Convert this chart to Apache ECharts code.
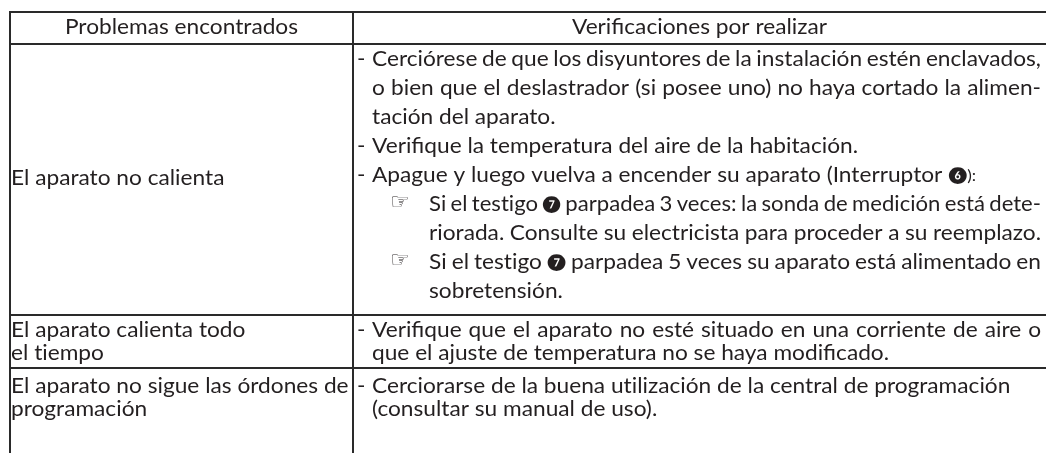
<!DOCTYPE html>
<html>
<head>
<meta charset="utf-8">
<script src="https://cdn.jsdelivr.net/npm/echarts@6/dist/echarts.min.js"></script>
<style>
html,body{margin:0;padding:0;background:#fff;}
#chart{width:1048px;height:453px;}
</style>
</head>
<body>
<div id="chart"></div>
<script>
// ---- data ----
const headers = ['Problemas encontrados', 'Verificaciones por realizar'];

const problems = [
  ['El aparato no calienta'],
  ['El aparato calienta todo', 'el tiempo'],
  ['El aparato no sigue las órdones de', 'programación']
];

// kind: dash = new item, cont = continuation, hand = pointer item, handcont = its continuation
// third field: justified line
const checksRow1 = [
  ['dash', 'Cerciórese de que los disyuntores de la instalación estén enclavados,', true],
  ['cont', 'o bien que el deslastrador (si posee uno) no haya cortado la alimen-', true],
  ['cont', 'tación del aparato.', false],
  ['dash', 'Verifique la temperatura del aire de la habitación.', false],
  ['dash', 'Apague y luego vuelva a encender su aparato (Interruptor ❻):', false],
  ['hand', 'Si el testigo ❼ parpadea 3 veces: la sonda de medición está dete-', true],
  ['handcont', 'riorada. Consulte su electricista para proceder a su reemplazo.', true],
  ['hand', 'Si el testigo ❼ parpadea 5 veces su aparato está alimentado en', true],
  ['handcont', 'sobretensión.', false]
];
const checksRow2 = [
  ['dash', 'Verifique que el aparato no esté situado en una corriente de aire o', true],
  ['cont', 'que el ajuste de temperatura no se haya modificado.', false]
];
const checksRow3 = [
  ['dash', 'Cerciorarse de la buena utilización de la central de programación', false],
  ['cont', '(consultar su manual de uso).', false]
];
const checks = [checksRow1, checksRow2, checksRow3];

// ---- layout ----
const FAMILY = 'Lato, "DejaVu Sans", sans-serif';
const FS = 21;
const SX = 1.08;
const COLOR = '#231f20';
const LINE = '#2a2a2a';
const X_LEFT = 10, X_DIV = 353, X_RIGHT = 1046;
const Y_TOP = 12, Y_HEAD = 44;
const rowBottoms = [315, 368, 470];
const rowFirstBase = [66, 337, 393];
const rowPitch = [29, 22.5, 23];
const leftBase = [[185], [337, 359.5], [393, 416]];

const mctx = document.createElement('canvas').getContext('2d');
function fontStr(sz) { return sz + 'px ' + FAMILY; }
// break "ti" ligature of Lato with an invisible non-joiner
const noLig = s => s.replace(/ti/g, 't\u200Ci');
function measure(t, sz, sx) { mctx.font = fontStr(sz); return mctx.measureText(noLig(t)).width * (sx || SX); }
const isMark = w => /^[❶-❿]/.test(w);

const elems = [];
function hLine(y, x0, x1) {
  elems.push({type: 'line', silent: true, shape: {x1: x0, y1: y, x2: x1, y2: y},
    style: {stroke: LINE, lineWidth: 2}});
}
function vLine(x, y0, y1) {
  elems.push({type: 'line', silent: true, shape: {x1: x, y1: y0, x2: x, y2: y1},
    style: {stroke: LINE, lineWidth: 2}});
}
// text placed at an alphabetic baseline, stretched horizontally
function txtBase(x, base, s, sz, align, sx, family) {
  sx = sx || SX;
  let xx = x;
  if (align === 'center') xx = x - measure(s, sz, sx) / 2;
  const f = family ? sz + 'px ' + family : fontStr(sz);
  elems.push({type: 'text', silent: true, x: xx, y: base - sz * 0.80, scaleX: sx,
    style: {text: noLig(s), x: 0, y: 0, font: f, fill: COLOR, textAlign: 'left', textVerticalAlign: 'top'}});
}
function lineWords(x0, x1, base, s, justify) {
  const words = s.split(' ');
  const sizes = words.map(w => isMark(w) ? 16 : FS);
  let sx = SX;
  let widths = words.map((w, i) => measure(w, sizes[i], sx));
  let total = widths.reduce((a, b) => a + b, 0);
  const space = measure(' ', FS, sx);
  const minTotal = total + 0.75 * space * (words.length - 1);
  if (justify && minTotal > x1 - x0) {
    sx = SX * (x1 - x0 - 0.75 * space * (words.length - 1)) / total;
    widths = words.map((w, i) => measure(w, sizes[i], sx));
    total = widths.reduce((a, b) => a + b, 0);
  }
  let gap = space;
  if (justify && words.length > 1) gap = (x1 - x0 - total) / (words.length - 1);
  let x = x0;
  words.forEach((w, i) => {
    txtBase(x, base + (isMark(w) ? -1 : 0), w, sizes[i], 'left', sx);
    x += widths[i] + gap;
  });
}

// grid lines
hLine(Y_TOP, X_LEFT - 1, X_RIGHT);
hLine(Y_HEAD, X_LEFT - 1, X_RIGHT);
hLine(rowBottoms[0], X_LEFT - 1, X_RIGHT);
hLine(rowBottoms[1], X_LEFT - 1, X_RIGHT);
vLine(X_LEFT, Y_TOP - 1, 453);
vLine(X_DIV, Y_TOP - 1, 453);

// headers
txtBase((X_LEFT + X_DIV) / 2, 34, headers[0], FS, 'center');
txtBase((X_DIV + X_RIGHT) / 2, 34, headers[1], FS, 'center');

// problems
problems.forEach((lines, r) => {
  lines.forEach((s, i) => txtBase(X_LEFT + 1, leftBase[r][i], s, FS));
});

// checks
const X_DASH = 357, X_TEXT = 372, X_HAND = 390, X_HTEXT = 429, X_END = 1041;
checks.forEach((lines, r) => {
  lines.forEach((ln, i) => {
    const [kind, s, just] = ln;
    const base = rowFirstBase[r] + rowPitch[r] * i;
    let x0 = X_TEXT;
    if (kind === 'dash') { txtBase(X_DASH, base, '-', FS); }
    if (kind === 'hand') { txtBase(X_HAND, base - 1, '☞', 22, 'left', 1, '"DejaVu Sans"'); }
    if (kind === 'hand' || kind === 'handcont') x0 = X_HTEXT;
    lineWords(x0, X_END, base, s, just);
  });
});

const chart = echarts.init(document.getElementById('chart'), null, {renderer: 'canvas'});
chart.setOption({
  animation: false,
  backgroundColor: '#ffffff',
  graphic: {elements: elems}
});
</script>
</body>
</html>
